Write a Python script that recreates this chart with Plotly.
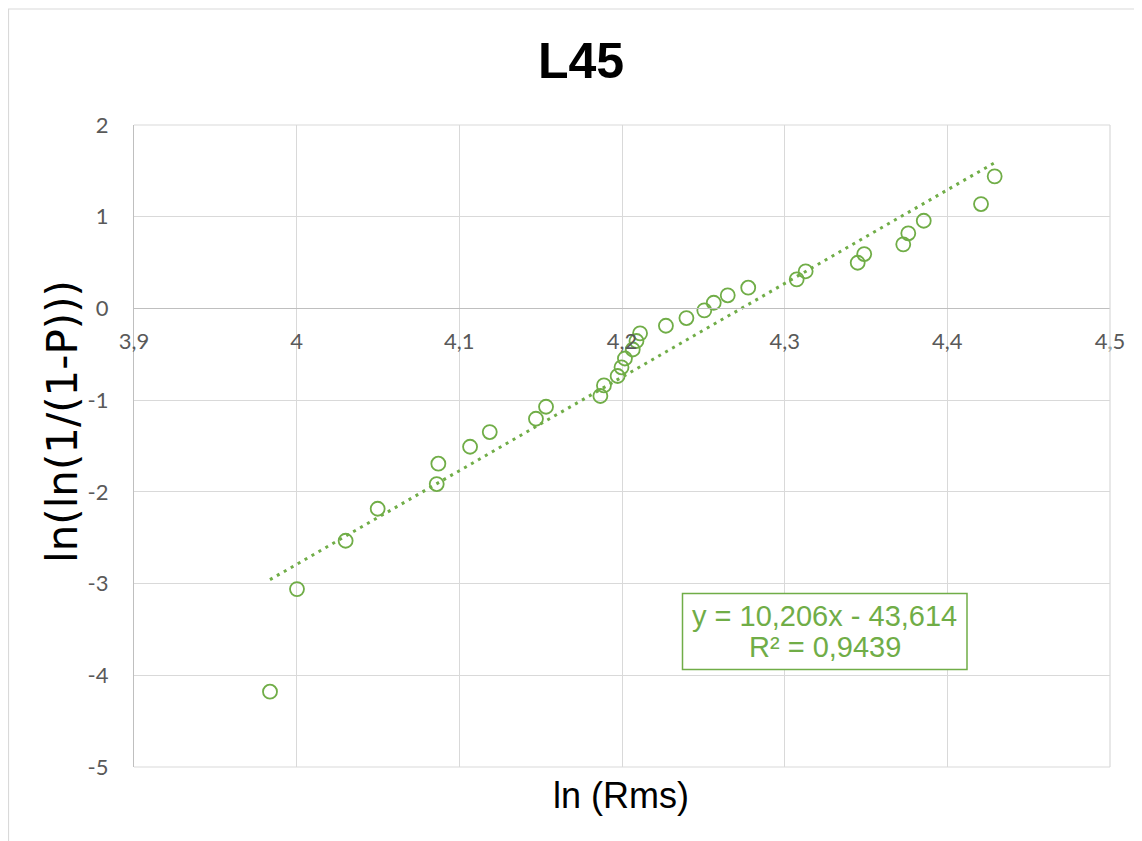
import plotly.graph_objects as go

# Data
ln_rms = [3.9836, 4.0002, 4.0301, 4.0498, 4.0861, 4.0871, 4.1066, 4.1187, 4.1471, 4.1533,
          4.1867, 4.1889, 4.1973, 4.1997, 4.2018, 4.2066, 4.2089, 4.2111, 4.2270, 4.2396,
          4.2506, 4.2564, 4.2650, 4.2776, 4.3074, 4.3129, 4.3449, 4.3489, 4.3729, 4.3760,
          4.3855, 4.4207, 4.4291]
weibull_y = [-4.179, -3.060, -2.533, -2.184, -1.915, -1.693, -1.508, -1.348, -1.203, -1.072,
             -0.955, -0.839, -0.737, -0.642, -0.546, -0.448, -0.355, -0.272, -0.189, -0.105,
             -0.021, 0.062, 0.143, 0.226, 0.317, 0.405, 0.498, 0.593, 0.699, 0.819,
             0.956, 1.138, 1.440]

slope = 10.206
intercept = -43.614
r_squared = "0,9439"

x_tick_vals = [3.9, 4.0, 4.1, 4.2, 4.3, 4.4, 4.5]
x_tick_labels = ["3,9", "4", "4,1", "4,2", "4,3", "4,4", "4,5"]
y_tick_vals = [2, 1, 0, -1, -2, -3, -4, -5]
y_tick_labels = ["2", "1", "0", "-1", "-2", "-3", "-4", "-5"]

title_text = "L45"
x_title = "ln (Rms)"
y_title = "ln(ln(1/(1-P)))"

GREEN = "#70ad47"
GRID = "#d9d9d9"
AXIS = "#bfbfbf"
TICK = "#595959"

# page has an 8px body margin, so figure pixel = screen pixel - 8
L, T, PW, PH = 126, 117, 976, 642

x_min, x_max = min(ln_rms), max(ln_rms)
trend_x = [x_min, x_max]
trend_y = [slope * v + intercept for v in trend_x]

fig = go.Figure()
fig.add_trace(go.Scatter(
    x=trend_x, y=trend_y, mode="lines",
    line=dict(color=GREEN, width=3, dash="3px,5px"),
    hoverinfo="skip", showlegend=False,
))
fig.add_trace(go.Scatter(
    x=ln_rms, y=weibull_y, mode="markers",
    marker=dict(symbol="circle-open", size=14, color=GREEN, line=dict(color=GREEN, width=1.8)),
    showlegend=False,
))

tick_font = dict(family="Lato, Carlito, sans-serif", size=22, color=TICK)


def px_x(sx):
    return (sx - 8 - L) / PW


def px_y(sy):
    return 1 - (sy - 8 - T) / PH


eq_font = dict(family="Liberation Sans, Arial, sans-serif", size=29, color=GREEN)
eq_line1 = f"y = {slope:.3f}x - {abs(intercept):.3f}".replace(".", ",")
eq_line2 = f"R² = {r_squared}"

fig.update_layout(
    width=1134, height=833,
    margin=dict(l=L, r=1134 - L - PW, t=T, b=833 - T - PH, autoexpand=False),
    paper_bgcolor="white", plot_bgcolor="white",
    showlegend=False,
    xaxis=dict(
        range=[3.9, 4.5], tickvals=x_tick_vals, ticktext=x_tick_labels,
        showgrid=True, gridcolor=GRID, gridwidth=1,
        zeroline=False, showline=True, linecolor=AXIS, linewidth=1.3,
        anchor="free", position=5 / 7,
        ticks="", ticklabelstandoff=13, tickfont=tick_font,
    ),
    yaxis=dict(
        range=[-5, 2], tickvals=y_tick_vals, ticktext=y_tick_labels,
        showgrid=True, gridcolor=GRID, gridwidth=1,
        zeroline=False, showline=True, linecolor=AXIS, linewidth=1.3,
        ticks="", ticklabelstandoff=20, tickfont=tick_font,
    ),
    shapes=[
        dict(type="rect", xref="paper", yref="paper",
             x0=px_x(8.5), x1=1.08, y0=-0.25, y1=px_y(9),
             line=dict(color=GRID, width=1.2), fillcolor="rgba(0,0,0,0)", layer="below"),
        dict(type="line", xref="paper", yref="paper", x0=0, x1=1, y0=0, y1=0,
             line=dict(color=GRID, width=1.2)),
        dict(type="line", xref="paper", yref="paper", x0=1, x1=1, y0=0, y1=1,
             line=dict(color=GRID, width=1.2)),
        dict(type="line", xref="paper", yref="paper", x0=0, x1=1, y0=1, y1=1,
             line=dict(color=GRID, width=1.2)),
        dict(type="rect", xref="paper", yref="paper",
             x0=px_x(682.5), x1=px_x(967), y0=px_y(669.5), y1=px_y(593.5),
             line=dict(color=GREEN, width=1.5), fillcolor="white", layer="above"),
    ],
    annotations=[
        dict(text=f"<b>{title_text}</b>", xref="paper", yref="paper",
             x=px_x(581), y=px_y(61), xanchor="center", yanchor="middle",
             showarrow=False, font=dict(family="Liberation Sans, Arial, sans-serif", size=50, color="black")),
        dict(text=x_title, xref="paper", yref="paper",
             x=px_x(621), y=px_y(795), xanchor="center", yanchor="middle",
             showarrow=False, font=dict(family="Liberation Sans, Arial, sans-serif", size=36, color="black")),
        dict(text=y_title, xref="paper", yref="paper", textangle=-90,
             x=px_x(62), y=px_y(422), xanchor="center", yanchor="middle",
             showarrow=False, font=dict(family="DejaVu Sans, sans-serif", size=42, color="black")),
        dict(text=eq_line1, xref="paper", yref="paper",
             x=px_x(824.7), y=px_y(616), xanchor="center", yanchor="middle",
             showarrow=False, font=eq_font),
        dict(text=eq_line2, xref="paper", yref="paper",
             x=px_x(824.7), y=px_y(647), xanchor="center", yanchor="middle",
             showarrow=False, font=eq_font),
    ],
)

fig.write_html("out.html")
